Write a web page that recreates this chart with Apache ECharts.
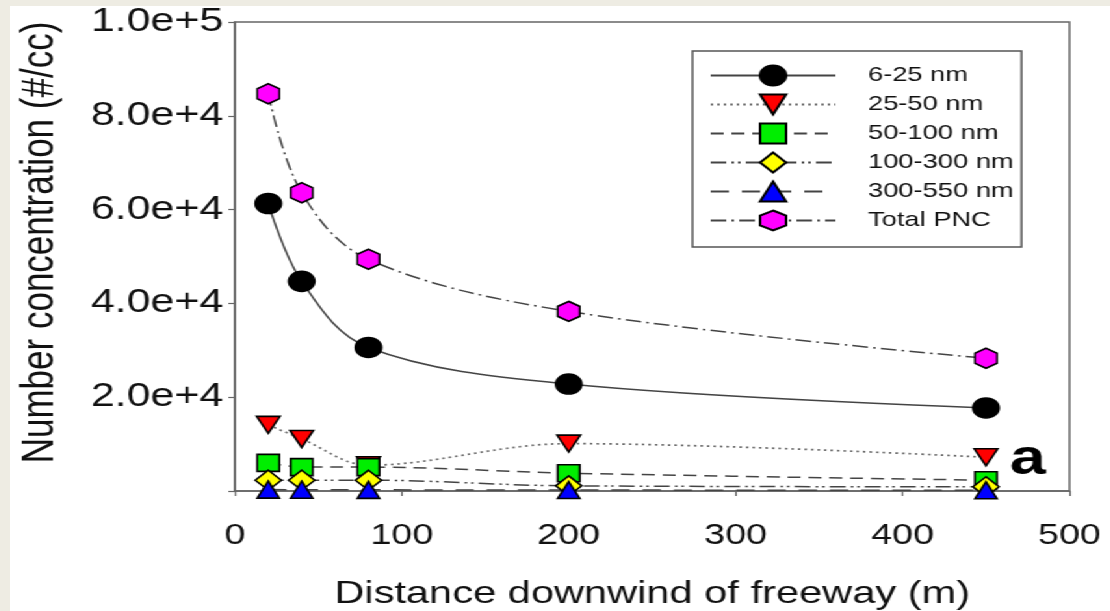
<!DOCTYPE html>
<html>
<head>
<meta charset="utf-8">
<script src="https://cdn.jsdelivr.net/npm/echarts@6/dist/echarts.min.js"></script>
<style>
  html, body { margin: 0; padding: 0; width: 1110px; height: 611px; overflow: hidden; background: #eeece3; }
  /* The figure is drawn narrow and stretched sideways by 1.3 */
  #chart {
    position: absolute; left: 10px; top: 6px;
    width: 846px; height: 605px;
    background: #ffffff;
    transform: scaleX(1.3); transform-origin: 0 0;
  }
</style>
</head>
<body>
<div id="chart"></div>
<script>
// Distance downwind of the freeway (m)
const distances = [20, 40, 80, 200, 450];

// Particle number concentration by size bin (#/cc)
const nm6to25    = [61300, 44700, 30600, 22800, 17700];
const nm25to50   = [14100, 11100, 5500, 10100, 7200];
const nm50to100  = [6000, 5100, 5100, 3800, 2300];
const nm100to300 = [2300, 2300, 2300, 1100, 900];
const nm300to550 = [300, 280, 250, 200, 150];
const totalPNC   = [84700, 63600, 49400, 38300, 28300];

const seriesNames = ['6-25 nm', '25-50 nm', '50-100 nm', '100-300 nm', '300-550 nm', 'Total PNC'];
const yTicks = [0, 20000, 40000, 60000, 80000, 100000];
const xTicks = [0, 100, 200, 300, 400, 500];

const FONT = 'Liberation Sans, Arial, sans-serif';
const DOWN_TRI = 'path://M0,0L2,0L1,1.8Z';
const HEXAGON = 'path://M0.866,0L1.732,0.5L1.732,1.5L0.866,2L0,1.5L0,0.5Z';

function pairs(vals) {
  return distances.map((d, i) => [d, vals[i]]);
}

function makeSeries(name, vals, symbol, size, fill, lineType, lineColor, lineWidth) {
  return {
    name: name,
    type: 'line',
    data: pairs(vals),
    smooth: 0.35,
    symbol: symbol,
    symbolSize: size,
    showAllSymbol: true,
    lineStyle: { color: lineColor, width: lineWidth, type: lineType },
    itemStyle: { color: fill, borderColor: '#000000', borderWidth: 1.6, opacity: 1 },
    emphasis: { disabled: true },
    animation: false
  };
}

const chart = echarts.init(document.getElementById('chart'), null, { renderer: 'canvas' });

chart.setOption({
  backgroundColor: '#ffffff',
  animation: false,
  grid: {
    left: 173, right: 31, top: 16, bottom: 120,
    outerBoundsMode: 'none',
    containLabel: false,
    show: true, borderColor: '#666666', borderWidth: 1.5, backgroundColor: 'transparent'
  },
  legend: {
    orient: 'vertical',
    left: 525, top: 45,
    padding: [12, 6, 14, 13],
    borderColor: '#555555', borderWidth: 1.5,
    itemWidth: 96, itemHeight: 25, itemGap: 4,
    textStyle: { fontFamily: FONT, fontSize: 21, color: '#111111', padding: [0, 0, 0, 20], lineHeight: 25 },
    data: seriesNames
  },
  xAxis: {
    type: 'value',
    min: xTicks[0], max: xTicks[xTicks.length - 1], interval: 100,
    name: 'Distance downwind of freeway (m)',
    nameLocation: 'middle', nameGap: 87,
    nameTextStyle: { fontFamily: FONT, fontSize: 32, color: '#111111' },
    axisLine: { show: true, lineStyle: { color: '#666666', width: 1.5 } },
    axisTick: { show: true, inside: false, length: 5, lineStyle: { color: '#666666', width: 1.2 } },
    axisLabel: { fontFamily: FONT, fontSize: 29, color: '#111111', margin: 30 },
    splitLine: { show: false }
  },
  yAxis: {
    type: 'value',
    min: yTicks[0], max: yTicks[yTicks.length - 1], interval: 20000,
    name: 'Number concentration (#/cc)',
    nameLocation: 'middle', nameGap: 132,
    nameTextStyle: { fontFamily: FONT, fontSize: 35, color: '#111111', padding: [0, 0, 0, 28] },
    axisLine: { show: true, lineStyle: { color: '#666666', width: 1.5 } },
    axisTick: { show: true, inside: false, length: 5, lineStyle: { color: '#666666', width: 1.2 } },
    axisLabel: {
      fontFamily: FONT, fontSize: 33, color: '#111111', margin: 9,
      formatter: v => (v === 0 ? '' : v.toExponential(1))
    },
    splitLine: { show: false }
  },
  graphic: [{
    type: 'text',
    x: 783, y: 454,
    silent: true,
    style: {
      text: 'a', fill: '#000000',
      font: 'bold 50px Liberation Sans, Arial, sans-serif',
      textAlign: 'center', textVerticalAlign: 'middle'
    }
  }],
  series: [
    makeSeries(seriesNames[0], nm6to25, 'circle', [20, 20], '#000000', 'solid', '#444444', 1.5),
    makeSeries(seriesNames[1], nm25to50, DOWN_TRI, [18, 17], '#ff0000', [2, 3], '#6f6f6f', 1.7),
    makeSeries(seriesNames[2], nm50to100, 'rect', [17, 17], '#00ee00', [10, 6], '#444444', 1.5),
    makeSeries(seriesNames[3], nm100to300, 'diamond', [20, 20], '#ffff00', [12, 4, 2, 3, 2, 4], '#444444', 1.5),
    makeSeries(seriesNames[4], nm300to550, 'triangle', [17, 17], '#0000ff', [14, 10], '#444444', 1.5),
    makeSeries(seriesNames[5], totalPNC, HEXAGON, [17, 20], '#ff00ff', [12, 4, 2, 4], '#444444', 1.5)
  ]
});
</script>
</body>
</html>
